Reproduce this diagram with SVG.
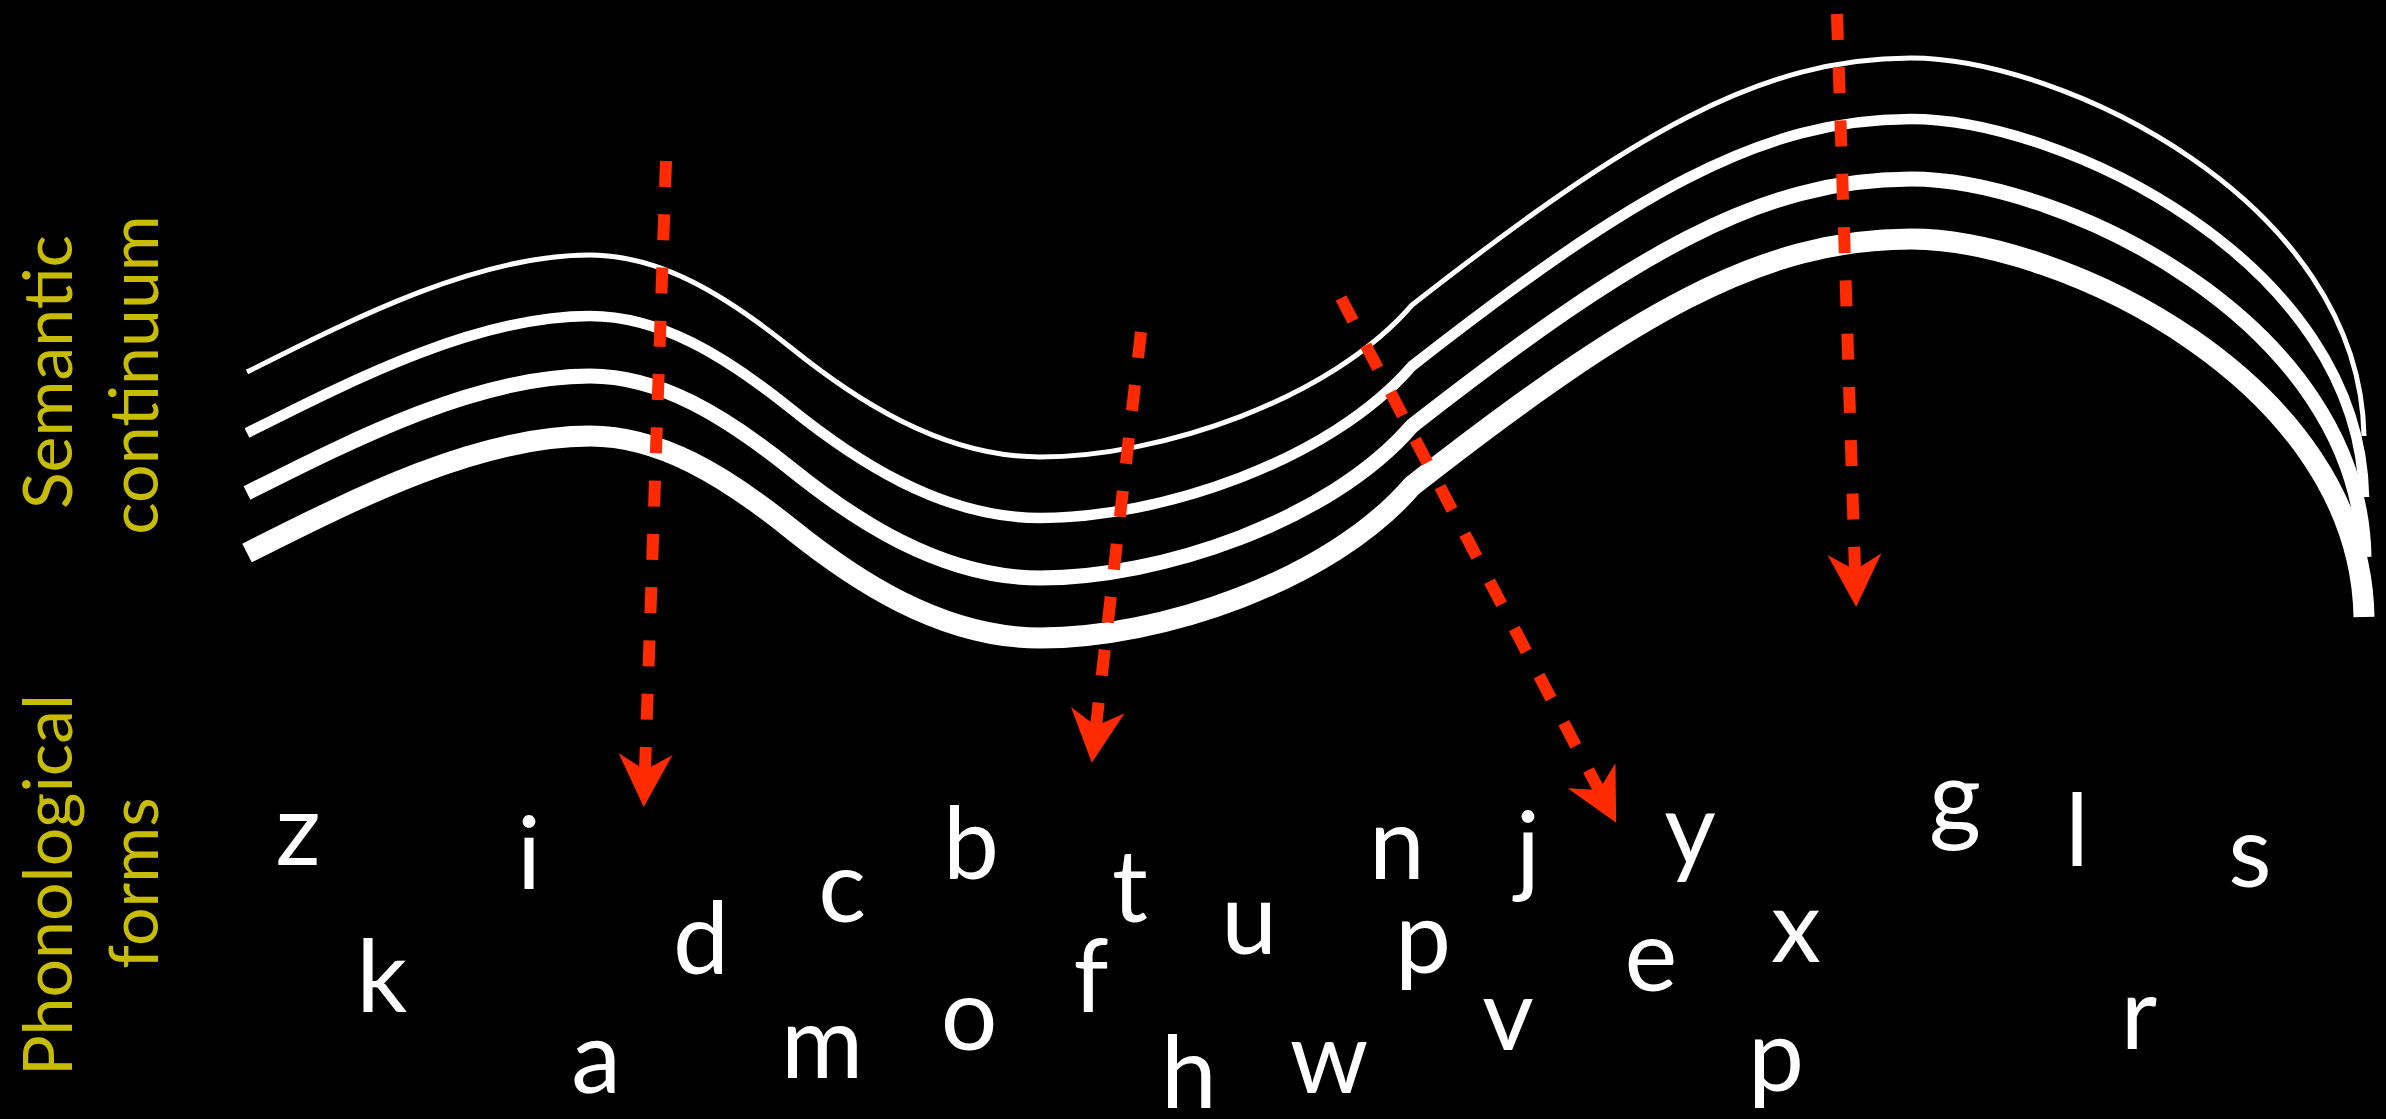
<svg xmlns="http://www.w3.org/2000/svg" xmlns:xlink="http://www.w3.org/1999/xlink" width="2386" height="1119" viewBox="0 0 2386 1119">
<style>
.curve{fill:none;stroke:#ffffff;stroke-linecap:butt;stroke-linejoin:round}
.arr{fill:none;stroke:#ff2a00;stroke-width:12;stroke-dasharray:26 27.3;stroke-linecap:butt;marker-end:url(#ah)}
.lab{font-family:Lato,"Open Sans","Liberation Sans",sans-serif;font-size:68px;fill:#c8bc00;text-anchor:middle}
.ph{font-family:Lato,"Open Sans","Liberation Sans",sans-serif;font-size:100px;fill:#ffffff;text-anchor:middle}
</style>
<defs>
<marker id="ah" markerUnits="userSpaceOnUse" viewBox="-20 -30 60 60" markerWidth="60" markerHeight="60" refX="0" refY="0" orient="auto">
<path d="M37,0 L-16,-27 L0,0 L-16,27 Z" fill="#ff2a00"/>
</marker>
<path id="wave" d="M247,372 C360,315 480,255 590,255 C660,255 725,295 790,347 C852,397 940,457 1040,457 C1160,457 1330,400 1412,305 C1632,133 1761,58 1911,58 C2060,58 2360,200 2364,436"/>
</defs>
<rect x="0" y="0" width="2386" height="1119" fill="#000000"/>
<g id="labels">
<text class="lab" transform="translate(72,372) rotate(-90)">Semantic</text>
<text class="lab" transform="translate(158,375) rotate(-90)">continuum</text>
<text class="lab" transform="translate(72,885) rotate(-90)">Phonological</text>
<text class="lab" transform="translate(158,883) rotate(-90)">forms</text>
</g>
<g id="semantic-continuum">
<use xlink:href="#wave" href="#wave" class="curve" style="stroke-width:5"/>
<use xlink:href="#wave" href="#wave" class="curve" style="stroke-width:10.5" transform="translate(0,61)"/>
<use xlink:href="#wave" href="#wave" class="curve" style="stroke-width:15" transform="translate(0,121)"/>
<use xlink:href="#wave" href="#wave" class="curve" style="stroke-width:21" transform="translate(0,181)"/>
</g>
<g id="forms">
<g id="f-z"><text class="ph" x="298" y="865">z</text></g>
<g id="f-i"><text class="ph" x="529" y="889">i</text></g>
<g id="f-k"><text class="ph" x="382" y="1012">k</text></g>
<g id="f-d"><text class="ph" x="701" y="974">d</text></g>
<g id="f-c"><text class="ph" x="842" y="922">c</text></g>
<g id="f-b"><text class="ph" x="971" y="879">b</text></g>
<g id="f-a"><text class="ph" x="596" y="1093">a</text></g>
<g id="f-m"><text class="ph" x="822" y="1078">m</text></g>
<g id="f-o"><text class="ph" x="969" y="1050">o</text></g>
<g id="f-t"><text class="ph" x="1130" y="922">t</text></g>
<g id="f-f"><text class="ph" x="1091" y="1012">f</text></g>
<g id="f-h"><text class="ph" x="1189" y="1108">h</text></g>
<g id="f-u"><text class="ph" x="1249" y="954">u</text></g>
<g id="f-n"><text class="ph" x="1397" y="879">n</text></g>
<g id="f-j"><text class="ph" x="1528" y="884">j</text></g>
<g id="f-y"><text class="ph" x="1690" y="865">y</text></g>
<g id="f-p1"><text class="ph" x="1423" y="973">p</text></g>
<g id="f-v"><text class="ph" x="1508" y="1050">v</text></g>
<g id="f-w"><text class="ph" x="1329" y="1093">w</text></g>
<g id="f-e"><text class="ph" x="1651" y="991">e</text></g>
<g id="f-x"><text class="ph" x="1796" y="962">x</text></g>
<g id="f-p2"><text class="ph" x="1776" y="1091">p</text></g>
<g id="f-g"><text class="ph" x="1955" y="833">g</text></g>
<g id="f-l"><text class="ph" x="2077" y="866">l</text></g>
<g id="f-r"><text class="ph" x="2139" y="1049">r</text></g>
<g id="f-s"><text class="ph" x="2250" y="887">s</text></g>
</g>
<g id="connectors">
<path class="arr" d="M666,161 L645,770"/>
<path class="arr" d="M1141,332 L1096,726"/>
<path class="arr" d="M1341,298 L1599,790"/>
<path class="arr" d="M1837,14 L1855,570"/>
</g>
</svg>
